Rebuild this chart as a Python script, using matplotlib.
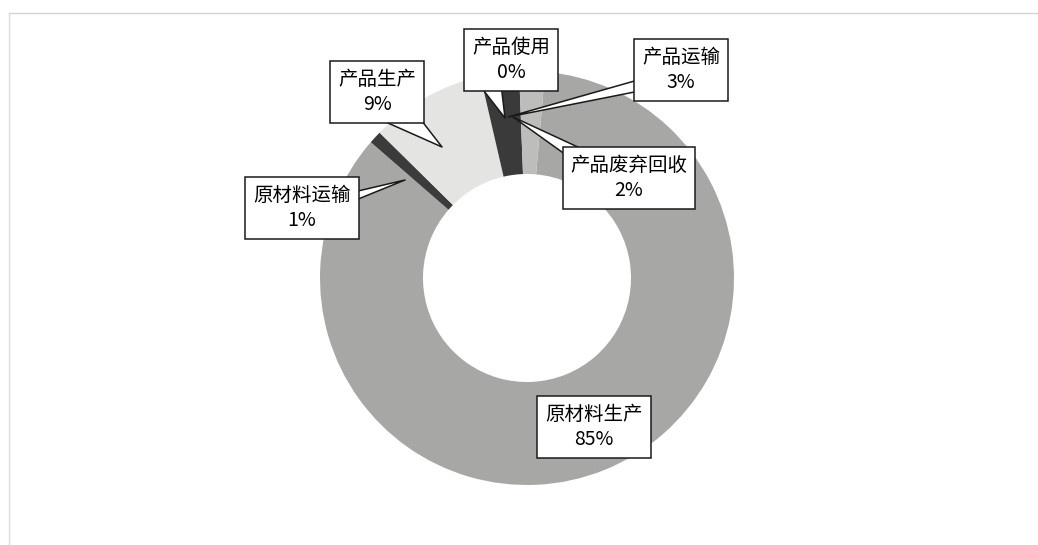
import matplotlib.pyplot as plt
from matplotlib.lines import Line2D

plt.rcParams['font.family'] = ['Noto Sans CJK SC', 'DejaVu Sans']

# life-cycle stages, in the order the slices run clockwise
stages = ['原材料生产', '原材料运输', '产品生产', '产品使用', '产品运输', '产品废弃回收']
shares = [85, 1, 9, 0, 3, 2]
colors = ['#a7a8a5', '#3b3b3b', '#e4e4e2', '#2e2e2e', '#3a3a3a', '#bdbebb']

W, H = 1038, 545
fig = plt.figure(figsize=(W / 100, H / 100), dpi=100)
ax = fig.add_axes([0, 0, 1, 1])

# axes in pixel units, y measured from the bottom
cx, cy = 527, H - 278
ax.pie(shares, colors=colors, radius=207, center=(cx, cy), startangle=85,
       counterclock=False, wedgeprops=dict(width=103, edgecolor='none'))
ax.set_xlim(0, W)
ax.set_ylim(0, H)
ax.set_aspect('equal')
ax.axis('off')

# faint frame of the photographed chart area
ax.add_line(Line2D([9, W], [H - 13, H - 13], color='#d4d4d4', lw=1))
ax.add_line(Line2D([9, 9], [0, H - 13], color='#dcdcdc', lw=1))

# callouts: box centre, tail tip (pixels from top-left), tail start on box, tail width
callouts = {
    '原材料生产': ((594, 427), None, None, 0),
    '原材料运输': ((302, 208), (405, 180), (0.95, 0.70), 0.5),
    '产品生产': ((377, 92), (442, 147), (0.75, 0.08), 1.5),
    '产品使用': ((511, 60), (505, 118), (0.22, 0.08), 1.2),
    '产品运输': ((681, 70), (508, 117), (0.05, 0.20), 0.6),
    '产品废弃回收': ((629, 178), (513, 117), (0.12, 0.92), 0.8),
}

for name, pct in zip(stages, shares):
    (bx, by), tip, rel, tw = callouts[name]
    box = dict(boxstyle='square,pad=0.4', fc='white', ec='#1a1a1a', lw=1.1)
    txt = f'{name}\n{pct}%'
    if tip is None:
        ax.text(bx, H - by, txt, ha='center', va='center', fontsize=14,
                linespacing=1.25, bbox=box, zorder=5)
    else:
        ax.annotate(txt, xy=(tip[0], H - tip[1]), xytext=(bx, H - by),
                    ha='center', va='center', fontsize=14, linespacing=1.25,
                    bbox=box, zorder=5,
                    arrowprops=dict(arrowstyle=f'wedge,tail_width={tw},shrink_factor=0.5',
                                    fc='white', ec='#1a1a1a', lw=1.1, relpos=rel,
                                    patchA=None, shrinkA=0, shrinkB=0))

fig.savefig('out.png', dpi=100, facecolor='white')
